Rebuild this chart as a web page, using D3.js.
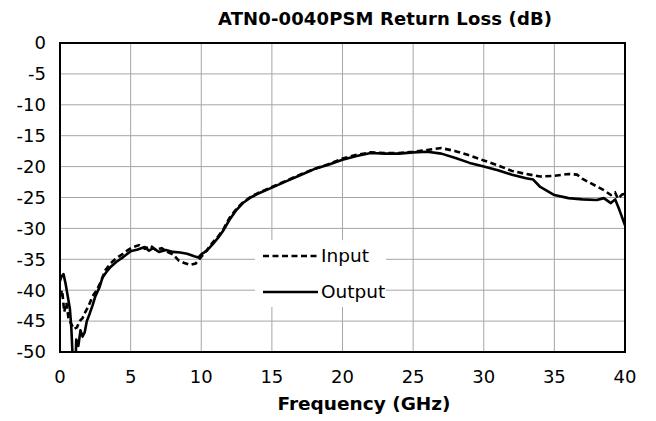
<!DOCTYPE html>
<html>
<head>
<meta charset="utf-8">
<script src="https://d3js.org/d3.v7.min.js"></script>
<style>
  body { margin: 0; background: #fff; }
  svg { font-family: "DejaVu Sans", sans-serif; }
  .grid line { stroke: #a6a6a6; stroke-width: 1px; }
  .tick-label { font-size: 18px; fill: #000; }
</style>
</head>
<body>
<div id="chart"></div>
<script>
  // Return loss data (GHz, dB)
  const inputFreq = [0, 0.15, 0.3, 0.45, 0.6, 0.8, 1.0, 1.2, 1.4, 1.6, 1.8, 2.0, 2.3, 2.6, 2.9, 3.2, 3.6, 4.0, 4.4, 4.8,
    5.2, 5.6, 6.0, 6.4, 6.8, 7.2, 7.6, 8.0, 8.4, 8.8, 9.2, 9.6, 10.0, 10.4, 10.8, 11.2, 11.6, 12.0, 12.5, 13.0,
    13.5, 14, 15, 16, 17, 18, 19, 20, 21, 22, 23, 24, 25, 26, 27, 28, 29, 30, 31, 32,
    33, 34, 35, 36, 36.6, 37, 38, 38.5, 39, 39.3, 39.5, 39.8, 40];
  const inputRL = [-41, -40, -43.5, -42, -44.5, -45.5, -46.3, -46, -45, -44.5, -43.5, -42.7, -41, -40, -38.6, -36.8, -35.6, -34.8, -34.2, -33.5,
    -33, -32.7, -33.3, -32.8, -33.5, -33.2, -33.8, -34.2, -35.2, -35.6, -35.9, -35.7, -34.6, -33.5, -32.3, -31.3, -30, -28.3, -26.8, -25.7,
    -24.9, -24.3, -23.3, -22.3, -21.3, -20.4, -19.6, -18.7, -18.1, -17.7, -17.8, -17.8, -17.6, -17.3, -17.0, -17.5, -18.2, -19.0, -19.8, -20.7,
    -21.2, -21.6, -21.5, -21.2, -21.3, -22.0, -23.2, -23.8, -24.6, -24.2, -25.2, -24.5, -24.4];

  const outputFreq = [0, 0.1, 0.25, 0.4, 0.55, 0.7, 0.8, 0.9, 1.1, 1.15, 1.3, 1.45, 1.6, 1.75, 1.9, 2.1, 2.3, 2.5, 2.8, 3.0,
    3.3, 3.6, 4.0, 4.5, 5.0, 5.5, 6.0, 6.3, 6.6, 7.0, 7.5, 8.0, 8.5, 9.0, 9.5, 9.8, 10.0, 10.4, 10.8, 11.2,
    11.6, 12.0, 12.5, 13.0, 13.5, 14, 15, 16, 17, 18, 19, 20, 21, 22, 23, 24, 25, 26, 27, 28,
    29, 30, 31, 32, 33, 33.5, 34, 35, 36, 37, 38, 38.5, 39, 39.3, 39.6, 40];
  const outputRL = [-38.5, -37.8, -37.4, -39, -41, -43, -46, -51, -52, -48, -49, -46.5, -47.5, -46.8, -45, -43.8, -42.5, -41, -39.5, -38,
    -37, -36.2, -35.4, -34.6, -33.7, -33.4, -33, -33.6, -33.2, -33.8, -33.5, -33.8, -33.9, -34.1, -34.5, -34.7, -34.2, -33.6, -32.6, -31.5,
    -30.2, -28.6, -27, -25.8, -25, -24.4, -23.4, -22.4, -21.4, -20.4, -19.7, -18.9, -18.3, -17.8, -17.9, -17.9, -17.7, -17.6, -17.9, -18.6,
    -19.4, -20.0, -20.6, -21.3, -21.9, -22.1, -23.3, -24.6, -25.1, -25.3, -25.4, -25.1, -25.9, -25.3, -27, -29.5];

  const xTicks = [0, 5, 10, 15, 20, 25, 30, 35, 40];
  const yTicks = [0, -5, -10, -15, -20, -25, -30, -35, -40, -45, -50];
  const seriesNames = ["Input", "Output"];

  const W = 656, H = 421;
  const plot = { left: 60, right: 625, top: 43, bottom: 352 };

  const svg = d3.select("#chart").append("svg").attr("width", W).attr("height", H);

  const x = d3.scaleLinear().domain([0, 40]).range([plot.left, plot.right]);
  const y = d3.scaleLinear().domain([-50, 0]).range([plot.bottom, plot.top]);

  // gridlines
  const grid = svg.append("g").attr("class", "grid");
  grid.selectAll(".vg").data(xTicks.slice(1, -1)).enter().append("line")
    .attr("x1", d => x(d)).attr("x2", d => x(d))
    .attr("y1", plot.top).attr("y2", plot.bottom);
  grid.selectAll(".hg").data(yTicks.slice(1, -1)).enter().append("line")
    .attr("x1", plot.left).attr("x2", plot.right)
    .attr("y1", d => y(d)).attr("y2", d => y(d));

  // curves
  svg.append("clipPath").attr("id", "clip").append("rect")
    .attr("x", plot.left).attr("y", plot.top)
    .attr("width", plot.right - plot.left).attr("height", plot.bottom - plot.top);

  const line = d3.line().x(d => x(d[0])).y(d => y(d[1]));
  const inputPts = inputFreq.map((f, i) => [f, inputRL[i]]);
  const outputPts = outputFreq.map((f, i) => [f, outputRL[i]]);

  const curves = svg.append("g").attr("clip-path", "url(#clip)");
  curves.append("path").datum(outputPts).attr("d", line)
    .attr("fill", "none").attr("stroke", "#000").attr("stroke-width", 2.6).attr("stroke-linejoin", "round");
  curves.append("path").datum(inputPts).attr("d", line)
    .attr("fill", "none").attr("stroke", "#000").attr("stroke-width", 2.6)
    .attr("stroke-dasharray", "6,3.5");

  // legend (white box over the grid)
  const lg = svg.append("g");
  lg.append("rect").attr("x", 255).attr("y", 240).attr("width", 131).attr("height", 67).attr("fill", "#fff");
  seriesNames.forEach((name, i) => {
    const ly = 256 + i * 36;
    lg.append("line").attr("x1", 263).attr("x2", 318).attr("y1", ly).attr("y2", ly)
      .attr("stroke", "#000").attr("stroke-width", 2.5)
      .attr("stroke-dasharray", i === 0 ? "6,3.5" : null);
    lg.append("text").attr("x", 321).attr("y", ly).attr("dy", "0.35em")
      .attr("font-size", 18.5).text(name);
  });

  // plot border
  svg.append("rect").attr("x", plot.left).attr("y", plot.top)
    .attr("width", plot.right - plot.left).attr("height", plot.bottom - plot.top)
    .attr("fill", "none").attr("stroke", "#000").attr("stroke-width", 2);

  // tick labels
  svg.selectAll(".yl").data(yTicks).enter().append("text")
    .attr("class", "tick-label").attr("x", 46).attr("y", d => y(d)).attr("dy", "0.35em")
    .attr("text-anchor", "end").text(d => d);
  svg.selectAll(".xl").data(xTicks).enter().append("text")
    .attr("class", "tick-label").attr("x", d => x(d)).attr("y", 383)
    .attr("text-anchor", "middle").text(d => d);

  // axis title
  svg.append("text").attr("x", 364).attr("y", 410).attr("text-anchor", "middle")
    .attr("font-size", 18.5).attr("font-weight", "bold").text("Frequency (GHz)");

  // chart title
  svg.append("text").attr("x", 385).attr("y", 25).attr("text-anchor", "middle")
    .attr("font-size", 18).attr("font-weight", "bold")
    .attr("textLength", 334).attr("lengthAdjust", "spacing")
    .text("ATN0-0040PSM Return Loss (dB)");
</script>
</body>
</html>
